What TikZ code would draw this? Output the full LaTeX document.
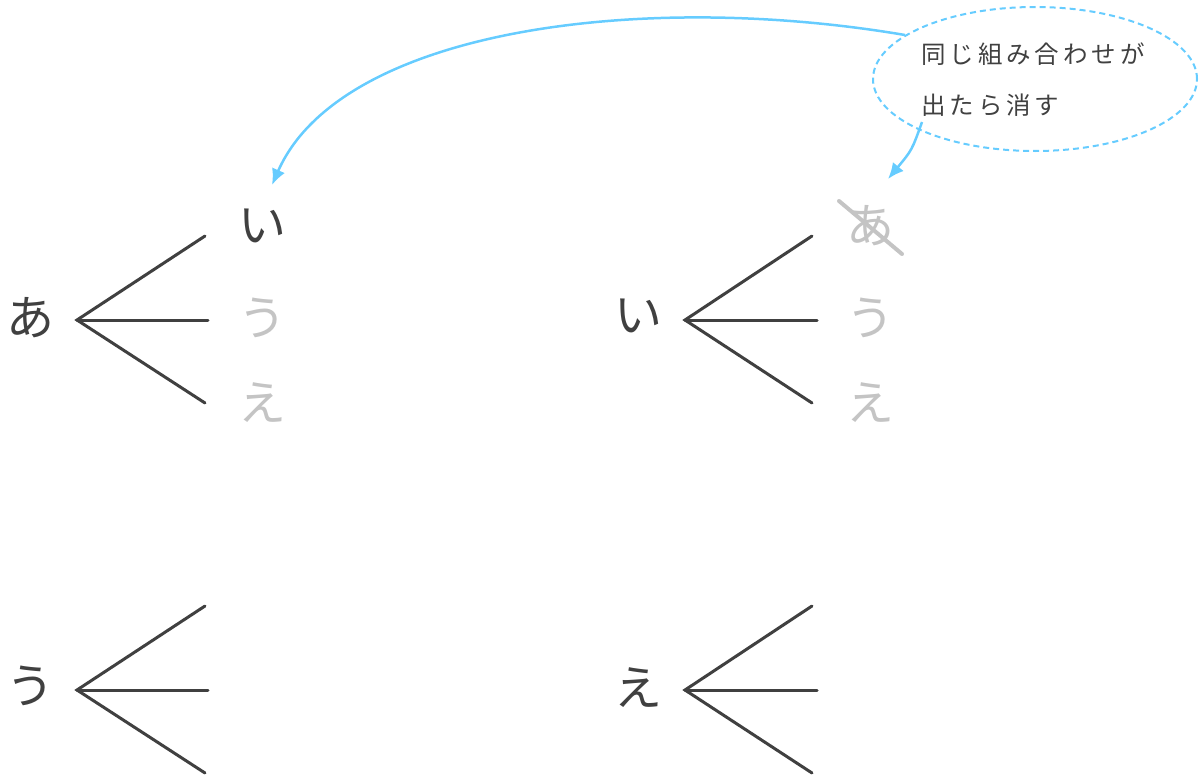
\documentclass[tikz,border=0pt]{standalone}
\usepackage{fontspec}
\setmainfont{Noto Sans CJK JP}
\usetikzlibrary{arrows.meta,shapes.geometric}
\definecolor{ink}{HTML}{404040}
\definecolor{faded}{HTML}{C4C4C4}
\definecolor{sky}{HTML}{66CCFF}
\tikzset{
  kana/.style={font=\fontsize{48}{48}\selectfont, text=ink, inner sep=0pt},
  fadedkana/.style={kana, text=faded},
  branch/.style={draw=ink, line width=3pt, line cap=round},
  note/.style={draw=sky, dash pattern=on 6pt off 4pt, line width=2pt, ellipse},
  notetext/.style={font=\fontsize{24.5}{24.5}\selectfont\addfontfeatures{LetterSpace=16}, text=ink, inner sep=0pt, anchor=west},
  pointer/.style={draw=sky, line width=2.5pt, -{Latex[length=16pt,width=14pt]}},
}
\begin{document}
\begin{tikzpicture}[x=1pt,y=-1pt]
\useasboundingbox (0,0) rectangle (1201,776);
% tree 1
\node[kana] (r1) at (30,318) {あ};
\coordinate (f1) at (77,320);
\coordinate (e1a) at (205,236);
\coordinate (e1b) at (208,320);
\coordinate (e1c) at (205,403);
\draw[branch] (e1a) -- (f1) -- (e1c);
\draw[branch] (f1) -- (e1b);
\node[kana] (l1a) at (262,226) {い};
\node[fadedkana] (l1b) at (262,318) {う};
\node[fadedkana] (l1c) at (262,403) {え};
% tree 2
\node[kana] (r2) at (638,316) {い};
\coordinate (f2) at (685,320);
\coordinate (e2a) at (812,236);
\coordinate (e2b) at (817,320);
\coordinate (e2c) at (812,403);
\draw[branch] (e2a) -- (f2) -- (e2c);
\draw[branch] (f2) -- (e2b);
\node[fadedkana] (l2a) at (870,226) {あ};
\node[fadedkana] (l2b) at (870,318) {う};
\node[fadedkana] (l2c) at (870,403) {え};
\coordinate (s1) at (839,201);
\coordinate (s2) at (902,254);
\draw[draw=faded, line width=4pt, line cap=round] (s1) -- (s2);
% tree 3
\node[kana] (r3) at (30,686) {う};
\coordinate (f3) at (77,690);
\coordinate (e3a) at (205,606);
\coordinate (e3b) at (208,690);
\coordinate (e3c) at (205,773);
\draw[branch] (e3a) -- (f3) -- (e3c);
\draw[branch] (f3) -- (e3b);
% tree 4
\node[kana] (r4) at (638,688) {え};
\coordinate (f4) at (685,690);
\coordinate (e4a) at (812,606);
\coordinate (e4b) at (817,690);
\coordinate (e4c) at (812,773);
\draw[branch] (e4a) -- (f4) -- (e4c);
\draw[branch] (f4) -- (e4b);
% note
\node[note, minimum width=324pt, minimum height=144pt] (n) at (1035,79) {};
\node[notetext] (t1) at (921,54) {同じ組み合わせが};
\node[notetext] (t2) at (921,105) {出たら消す};
\coordinate (a1s) at (905,35);
\coordinate (a1e) at (272,185);
\coordinate (a2s) at (922,122);
\coordinate (a2e) at (888,179);
\draw[pointer] (a1s) .. controls (640,-10) and (340,30) .. (a1e);
\draw[pointer] (a2s) .. controls (912,150) .. (a2e);
\end{tikzpicture}
\end{document}
